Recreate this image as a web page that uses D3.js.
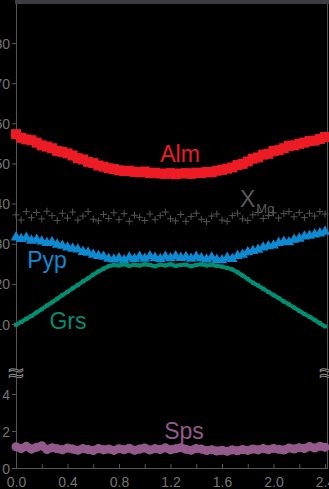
<!DOCTYPE html>
<html>
<head>
<meta charset="utf-8">
<script src="https://cdnjs.cloudflare.com/ajax/libs/d3/7.8.5/d3.min.js"></script>
<style>
html, body { margin: 0; padding: 0; background: #000; overflow: hidden; }
svg { display: block; }
text { font-family: "Liberation Sans", Arial, sans-serif; }
</style>
</head>
<body>
<svg id="chart"></svg>
<script>
// distance along the profile (mm)
var dist = [0.00, 0.04, 0.08, 0.12, 0.16, 0.20, 0.24, 0.28, 0.32, 0.36,
	0.40, 0.44, 0.48, 0.52, 0.56, 0.60, 0.64, 0.68, 0.72, 0.76,
	0.80, 0.84, 0.88, 0.92, 0.96, 1.00, 1.04, 1.08, 1.12, 1.16,
	1.20, 1.24, 1.28, 1.32, 1.36, 1.40, 1.44, 1.48, 1.52, 1.56,
	1.60, 1.64, 1.68, 1.72, 1.76, 1.80, 1.84, 1.88, 1.92, 1.96,
	2.00, 2.04, 2.08, 2.12, 2.16, 2.20, 2.24, 2.28, 2.32, 2.36, 2.40];

var alm = [57.3, 56.4, 56.0, 55.8, 55.2, 54.5, 54.2, 53.8, 53.1, 52.9,
	52.5, 52.0, 51.3, 51.0, 50.4, 50.1, 49.5, 49.2, 48.8, 48.6,
	48.3, 48.1, 48.2, 47.9, 47.8, 48.0, 47.6, 47.7, 47.5, 47.4,
	47.6, 47.3, 47.5, 47.6, 47.4, 47.7, 47.6, 47.9, 47.8, 48.2,
	48.4, 48.7, 49.0, 49.6, 49.9, 50.5, 51.2, 51.5, 52.2, 52.4,
	53.1, 53.3, 53.8, 54.4, 54.5, 54.9, 55.2, 55.6, 55.7, 56.1, 56.6];

var xmg = [37.2, 35.9, 38.0, 36.5, 37.8, 36.2, 38.1, 37.0, 35.8, 37.6,
	36.4, 37.9, 35.9, 36.9, 38.0, 36.1, 35.7, 37.3, 36.3, 37.7,
	36.0, 37.5, 35.6, 37.1, 36.6, 35.8, 37.4, 36.0, 37.0, 37.9,
	36.2, 35.7, 37.3, 35.6, 36.8, 37.6, 36.1, 35.5, 36.9, 37.4,
	35.9, 35.6, 37.0, 37.6, 36.2, 35.8, 37.2, 37.8, 36.3, 37.0,
	37.7, 36.4, 37.5, 38.0, 36.7, 37.8, 36.5, 37.6, 36.9, 38.0, 37.4];

var pyp = [31.6, 31.2, 31.5, 30.8, 31.0, 30.6, 30.2, 30.4, 29.8, 29.5,
	29.1, 28.8, 28.6, 28.0, 27.8, 27.3, 27.0, 26.8, 26.3, 26.1,
	26.4, 25.9, 26.6, 26.2, 26.8, 26.3, 26.9, 26.5, 26.2, 26.8,
	26.4, 26.9, 26.5, 26.7, 26.3, 26.8, 26.4, 26.1, 26.6, 26.0,
	25.9, 26.5, 26.2, 27.0, 27.3, 27.9, 28.2, 28.5, 29.1, 29.4,
	29.6, 30.2, 30.5, 30.4, 31.0, 31.3, 31.8, 32.0, 32.3, 32.6, 33.0];

var grs = [9.8, 10.5, 11.3, 12.0, 12.9, 13.7, 14.6, 15.4, 16.3, 17.2,
	18.0, 18.9, 19.7, 20.6, 21.4, 22.3, 23.1, 23.8, 24.4, 24.7,
	24.6, 24.9, 24.5, 24.8, 24.6, 24.9, 24.7, 24.4, 24.8, 24.6,
	24.9, 24.5, 24.7, 24.8, 24.4, 24.7, 24.9, 24.6, 24.8, 24.5,
	24.3, 24.0, 23.6, 22.9, 22.1, 21.2, 20.3, 19.6, 18.8, 18.0,
	17.2, 16.5, 15.6, 14.9, 14.1, 13.3, 12.5, 11.8, 11.0, 10.2, 9.4];

var sps = [1.15, 1.05, 1.18, 1.02, 1.12, 1.20, 1.00, 1.10, 1.04, 0.98,
	1.08, 1.02, 0.96, 1.05, 1.00, 0.94, 1.06, 0.98, 1.03, 0.95,
	1.04, 0.99, 1.07, 0.96, 1.02, 1.08, 0.97, 1.05, 1.00, 1.09,
	0.98, 1.04, 1.10, 1.01, 0.96, 1.06, 1.02, 0.94, 0.99, 0.92,
	0.96, 0.90, 0.98, 0.93, 1.00, 0.95, 1.03, 0.98, 1.05, 0.99,
	1.06, 1.01, 0.97, 1.08, 1.03, 1.10, 1.05, 1.16, 1.08, 1.18, 1.12];

var xTicks = [0.0, 0.2, 0.4, 0.6, 0.8, 1.0, 1.2, 1.4, 1.6, 1.8, 2.0, 2.2, 2.4];
var xTickLabels = ["0.0", "", "0.4", "", "0.8", "", "1.2", "", "1.6", "", "2.0", "", "2.4"];
var upperTicks = [10, 20, 30, 40, 50, 60, 70, 80];
var lowerTicks = [0, 2, 4];

var cfg = {
	width: 329,
	height: 489,
	left: 16,
	right: 327,
	brk: 373,
	bottom: 468,
	axisColor: "#555",
	tickColor: "#757575"
};

var svg = d3.select("#chart")
	.attr("width", cfg.width)
	.attr("height", cfg.height);

svg.append("rect")
	.attr("width", cfg.width)
	.attr("height", cfg.height)
	.attr("fill", "#000");

var x = d3.scaleLinear()
	.domain([0, 2.4])
	.range([16, 325]);

var yUp = d3.scaleLinear()
	.domain([-2, 90])
	.range([372.2, 2.9]);

var yLow = d3.scaleLinear()
	.domain([0, 5])
	.range([468, 375.5]);

// axes
var xAxis = svg.append("g")
	.attr("transform", "translate(0," + cfg.bottom + ")")
	.call(d3.axisBottom(x)
		.tickValues(xTicks)
		.tickSizeInner(-4)
		.tickSizeOuter(0)
		.tickPadding(6)
		.tickFormat(function(d, i) { return xTickLabels[i]; }));

var yAxisUp = svg.append("g")
	.attr("transform", "translate(" + cfg.left + ",0)")
	.call(d3.axisLeft(yUp)
		.tickValues(upperTicks)
		.tickSize(4)
		.tickPadding(2)
		.tickFormat(d3.format("d")));

var yAxisLow = svg.append("g")
	.attr("transform", "translate(" + cfg.left + ",0)")
	.call(d3.axisLeft(yLow)
		.tickValues(lowerTicks)
		.tickSize(4)
		.tickPadding(2)
		.tickFormat(d3.format("d")));

[xAxis, yAxisUp, yAxisLow].forEach(function(g) {
	g.select(".domain").remove();
	g.selectAll(".tick line").attr("stroke", cfg.axisColor);
	g.selectAll(".tick text")
		.attr("fill", cfg.tickColor)
		.style("font-size", "14px")
		.style("font-family", "'Liberation Sans', Arial, sans-serif");
});
xAxis.selectAll(".tick text").attr("dy", "0.9em");
yAxisUp.selectAll(".tick text").attr("dy", "0.36em");
yAxisLow.selectAll(".tick text").attr("dy", "0.36em");

// frame
svg.append("line")
	.attr("x1", cfg.left + 0.5).attr("x2", cfg.left + 0.5)
	.attr("y1", 0).attr("y2", cfg.bottom)
	.attr("stroke", cfg.axisColor);
svg.append("line")
	.attr("x1", cfg.right + 0.5).attr("x2", cfg.right + 0.5)
	.attr("y1", 0).attr("y2", cfg.bottom)
	.attr("stroke", cfg.axisColor);
svg.append("line")
	.attr("x1", cfg.left).attr("x2", cfg.right + 1)
	.attr("y1", cfg.bottom + 0.5).attr("y2", cfg.bottom + 0.5)
	.attr("stroke", cfg.axisColor);
svg.append("rect")
	.attr("x", 15).attr("y", 0)
	.attr("width", cfg.width - 15).attr("height", 4)
	.attr("fill", "#3d3d41");

// series
function drawSeries(vals, yScale, color, opt) {
	var pts = dist.map(function(d, i) { return {x: d, y: vals[i]}; });
	var line = d3.line()
		.x(function(d) { return x(d.x); })
		.y(function(d) { return yScale(d.y); });

	var g = svg.append("g");
	if (opt.lineWidth > 0) {
		g.append("path")
			.attr("d", line(pts))
			.attr("fill", "none")
			.attr("stroke", color)
			.attr("stroke-width", opt.lineWidth)
			.attr("stroke-linejoin", "round");
	}

	var sym = opt.plus
		? function() { return "M-3.5,0H3.5M0,-3.5V3.5"; }
		: d3.symbol().type(opt.symbol).size(opt.size);
	g.selectAll("path.m")
		.data(pts)
		.enter().append("path")
		.attr("class", "m")
		.attr("d", sym)
		.attr("transform", function(d) {
			return "translate(" + x(d.x) + "," + yScale(d.y) + ")";
		})
		.attr("fill", opt.plus ? "none" : color)
		.attr("stroke", opt.plus ? color : "none")
		.attr("stroke-width", 1);
}

drawSeries(xmg, yUp, "#555555", {plus: true, lineWidth: 0});
drawSeries(alm, yUp, "#ed1c24", {symbol: d3.symbolSquare, size: 100, lineWidth: 9});
drawSeries(pyp, yUp, "#0d8ad2", {symbol: d3.symbolTriangle, size: 50, lineWidth: 4});
drawSeries(grs, yUp, "#008f72", {symbol: d3.symbolSquare, size: 16, lineWidth: 4});
drawSeries(sps, yLow, "#955a8c", {symbol: d3.symbolCircle, size: 64, lineWidth: 8});

// labels
function label(txt, px, py, color) {
	return svg.append("text")
		.attr("x", px)
		.attr("y", py)
		.attr("text-anchor", "middle")
		.attr("fill", color)
		.style("font-size", "23px")
		.text(txt);
}

label("Alm", 180, 162, "#ed1c24");
label("Pyp", 47, 268, "#0d8ad2");
label("Grs", 68, 329, "#008f72");
label("Sps", 184, 439, "#955a8c");

var xm = svg.append("text")
	.attr("x", 240)
	.attr("y", 207)
	.attr("fill", "#5a5a5a")
	.style("font-size", "23px");
xm.append("tspan").text("X");
xm.append("tspan")
	.attr("dx", 1)
	.attr("dy", 6)
	.style("font-size", "13px")
	.text("Mg");

// axis break marks
[cfg.left, cfg.right].forEach(function(px) {
	svg.append("text")
		.attr("x", px)
		.attr("y", cfg.brk)
		.attr("text-anchor", "middle")
		.attr("dominant-baseline", "central")
		.attr("fill", "#000")
		.attr("stroke", "#8a8a8a")
		.attr("stroke-width", 1)
		.style("font-size", "27px")
		.text("\u2248");
});
</script>
</body>
</html>
